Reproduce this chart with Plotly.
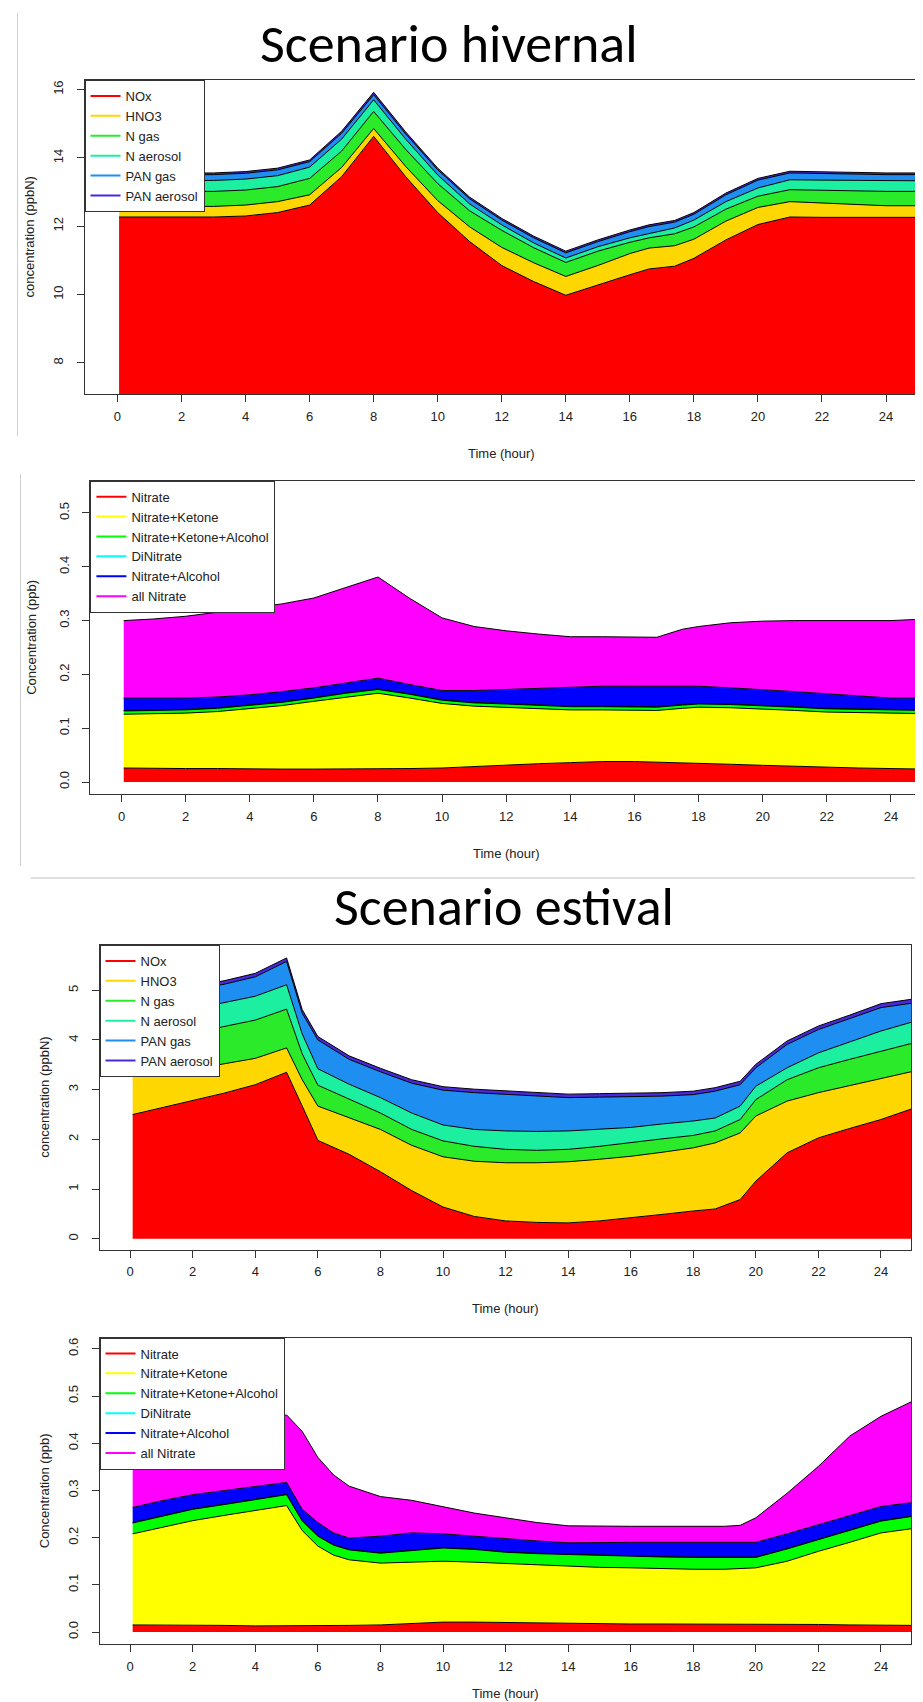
import plotly.graph_objects as go

FIG_W, FIG_H = 923, 1702

# ------------------------------------------------------------------ data
# Winter scenario, nitrogen budget (ppbN), stacked layers
hours_w_n = [0.05, 1, 2, 3, 4, 5, 6, 7, 8, 9, 10, 11, 12, 13, 14, 15, 16, 16.6, 17.4,
             18, 19, 20, 21, 22, 23, 24, 25.1]
w_nox = [12.27, 12.27, 12.27, 12.27, 12.30, 12.40, 12.62, 13.45, 14.63, 13.45, 12.40, 11.55,
         10.85, 10.38, 9.98, 10.29, 10.58, 10.75, 10.83, 11.06, 11.60, 12.05, 12.27, 12.26,
         12.26, 12.26, 12.26]
w_hno3 = [0.33, 0.32, 0.31, 0.31, 0.32, 0.32, 0.30, 0.27, 0.23, 0.30, 0.35, 0.43, 0.53, 0.55,
          0.55, 0.56, 0.62, 0.61, 0.60, 0.56, 0.55, 0.50, 0.45, 0.42, 0.37, 0.34, 0.34]
w_ngas = [0.42, 0.43, 0.43, 0.44, 0.44, 0.44, 0.48, 0.48, 0.50, 0.50, 0.50, 0.47, 0.50, 0.44,
          0.41, 0.42, 0.33, 0.30, 0.35, 0.36, 0.35, 0.33, 0.35, 0.37, 0.40, 0.42, 0.42]
w_naer = [0.31, 0.31, 0.32, 0.32, 0.32, 0.32, 0.33, 0.35, 0.34, 0.30, 0.25, 0.20, 0.16, 0.14,
          0.13, 0.13, 0.13, 0.13, 0.17, 0.20, 0.22, 0.24, 0.29, 0.30, 0.31, 0.31, 0.31]
w_pangas = [0.17, 0.17, 0.17, 0.17, 0.17, 0.17, 0.16, 0.17, 0.15, 0.15, 0.15, 0.15, 0.14, 0.15,
            0.15, 0.15, 0.18, 0.20, 0.17, 0.17, 0.20, 0.23, 0.20, 0.19, 0.18, 0.18, 0.18]
w_panaer = [0.05, 0.05, 0.05, 0.05, 0.05, 0.05, 0.05, 0.06, 0.07, 0.06, 0.05, 0.05, 0.05, 0.05,
            0.05, 0.05, 0.05, 0.05, 0.05, 0.05, 0.05, 0.05, 0.05, 0.05, 0.05, 0.05, 0.05]

# Winter scenario, organic nitrates (ppb)
hours_w_o = [0.07, 1, 2, 3, 4, 5, 6, 7, 8, 9, 10, 11, 12, 13, 14, 15, 16, 16.7, 17.5,
             18, 19, 20, 21, 22, 23, 24, 25.1]
w_nitrate = [0.026, 0.025, 0.025, 0.025, 0.024, 0.024, 0.024, 0.024, 0.024, 0.025, 0.026,
             0.029, 0.031, 0.034, 0.036, 0.038, 0.038, 0.037, 0.036, 0.035, 0.033, 0.031,
             0.029, 0.027, 0.026, 0.025, 0.024]
w_nit_ket = [0.100, 0.102, 0.103, 0.106, 0.112, 0.118, 0.126, 0.134, 0.141, 0.131, 0.120,
             0.112, 0.108, 0.102, 0.098, 0.096, 0.096, 0.096, 0.101, 0.104, 0.105, 0.105,
             0.104, 0.103, 0.103, 0.103, 0.103]
w_nit_ket_alc = [0.006, 0.006, 0.006, 0.006, 0.006, 0.006, 0.006, 0.007, 0.007, 0.007, 0.006,
                 0.006, 0.006, 0.006, 0.006, 0.006, 0.006, 0.006, 0.006, 0.006, 0.006, 0.006,
                 0.006, 0.006, 0.006, 0.006, 0.006]
w_dinitrate = [0.001, 0.001, 0.001, 0.001, 0.001, 0.001, 0.001, 0.001, 0.001, 0.001, 0.001,
               0.001, 0.001, 0.001, 0.001, 0.001, 0.001, 0.001, 0.001, 0.001, 0.001, 0.001,
               0.001, 0.001, 0.001, 0.001, 0.001]
w_nit_alc = [0.023, 0.022, 0.021, 0.020, 0.019, 0.019, 0.018, 0.018, 0.020, 0.017, 0.017,
             0.022, 0.026, 0.031, 0.035, 0.037, 0.037, 0.038, 0.034, 0.032, 0.030, 0.029,
             0.028, 0.027, 0.024, 0.021, 0.022]
w_all_nit = [0.144, 0.147, 0.152, 0.158, 0.161, 0.163, 0.167, 0.177, 0.188, 0.160, 0.135,
             0.119, 0.109, 0.101, 0.094, 0.092, 0.092, 0.091, 0.106, 0.111, 0.121, 0.127,
             0.132, 0.136, 0.140, 0.144, 0.147]

# Summer scenario, nitrogen budget (ppbN)
hours_s_n = [0.08, 1, 2, 3, 4, 5, 5.5, 6, 7, 8, 9, 10, 11, 12, 13, 14, 15, 16, 17, 18, 18.7,
             19.5, 20, 21, 22, 23, 24, 25.1]
s_nox = [2.50, 2.64, 2.78, 2.93, 3.10, 3.35, 2.67, 1.98, 1.70, 1.35, 0.97, 0.64, 0.45, 0.36,
         0.33, 0.32, 0.36, 0.42, 0.49, 0.56, 0.60, 0.79, 1.16, 1.73, 2.03, 2.22, 2.40, 2.64]
s_hno3 = [0.77, 0.69, 0.63, 0.59, 0.53, 0.49, 0.53, 0.69, 0.73, 0.85, 0.91, 1.01, 1.11, 1.17,
          1.20, 1.23, 1.24, 1.24, 1.25, 1.27, 1.33, 1.34, 1.31, 1.04, 0.91, 0.86, 0.82, 0.74]
s_ngas = [0.71, 0.72, 0.72, 0.75, 0.77, 0.78, 0.52, 0.42, 0.38, 0.33, 0.32, 0.32, 0.30, 0.27,
          0.25, 0.25, 0.26, 0.28, 0.27, 0.25, 0.24, 0.27, 0.33, 0.43, 0.50, 0.53, 0.55, 0.57]
s_naer = [0.47, 0.48, 0.49, 0.48, 0.48, 0.49, 0.40, 0.33, 0.30, 0.31, 0.33, 0.32, 0.34, 0.37,
          0.38, 0.37, 0.34, 0.30, 0.30, 0.29, 0.26, 0.27, 0.27, 0.24, 0.30, 0.35, 0.41, 0.43]
s_pangas = [0.40, 0.39, 0.40, 0.37, 0.39, 0.47, 0.42, 0.58, 0.50, 0.52, 0.60, 0.70, 0.74, 0.74,
            0.71, 0.67, 0.65, 0.62, 0.56, 0.53, 0.54, 0.43, 0.37, 0.47, 0.47, 0.47, 0.47, 0.37]
s_panaer = [0.07, 0.07, 0.07, 0.07, 0.07, 0.07, 0.07, 0.07, 0.07, 0.07, 0.07, 0.07, 0.07, 0.07,
            0.07, 0.07, 0.07, 0.07, 0.07, 0.07, 0.07, 0.07, 0.07, 0.07, 0.07, 0.07, 0.08, 0.08]

# Summer scenario, organic nitrates (ppb)
hours_s_o = [0.08, 1, 2, 3, 4, 5, 5.5, 6, 6.5, 7, 8, 9, 10, 11, 12, 13, 14, 15, 16, 17, 18,
             19, 19.5, 20, 21, 22, 23, 24, 25.1]
s_nitrate = [0.015, 0.015, 0.014, 0.014, 0.013, 0.013, 0.013, 0.013, 0.013, 0.014, 0.015,
             0.018, 0.021, 0.021, 0.020, 0.019, 0.018, 0.017, 0.017, 0.017, 0.017, 0.017,
             0.017, 0.017, 0.016, 0.016, 0.015, 0.015, 0.014]
s_nit_ket = [0.193, 0.207, 0.222, 0.233, 0.244, 0.255, 0.202, 0.169, 0.150, 0.139, 0.131,
             0.130, 0.129, 0.127, 0.125, 0.123, 0.121, 0.120, 0.119, 0.117, 0.116, 0.116,
             0.117, 0.119, 0.134, 0.155, 0.175, 0.195, 0.206]
s_nit_ket_alc = [0.023, 0.023, 0.024, 0.023, 0.023, 0.023, 0.020, 0.021, 0.021, 0.021, 0.021,
                 0.024, 0.028, 0.027, 0.024, 0.024, 0.025, 0.025, 0.024, 0.025, 0.025, 0.025,
                 0.024, 0.022, 0.026, 0.025, 0.025, 0.025, 0.026]
s_dinitrate = [0.001, 0.001, 0.001, 0.001, 0.001, 0.001, 0.001, 0.001, 0.001, 0.001, 0.001,
               0.001, 0.001, 0.001, 0.001, 0.001, 0.001, 0.001, 0.001, 0.001, 0.001, 0.001,
               0.001, 0.001, 0.001, 0.001, 0.001, 0.001, 0.001]
s_nit_alc = [0.032, 0.032, 0.030, 0.029, 0.027, 0.025, 0.024, 0.028, 0.025, 0.024, 0.035,
             0.037, 0.029, 0.027, 0.027, 0.026, 0.024, 0.027, 0.029, 0.030, 0.031, 0.031,
             0.031, 0.031, 0.031, 0.030, 0.030, 0.030, 0.028]
s_all_nit = [0.126, 0.122, 0.119, 0.125, 0.132, 0.143, 0.165, 0.138, 0.123, 0.110, 0.084,
             0.069, 0.058, 0.049, 0.045, 0.039, 0.036, 0.034, 0.034, 0.034, 0.034, 0.034,
             0.036, 0.052, 0.086, 0.124, 0.169, 0.191, 0.217]

names_n = ["NOx", "HNO3", "N gas", "N aerosol", "PAN gas", "PAN aerosol"]
colors_n = ["#FF0000", "#FFD700", "#2AEA2A", "#1CF0A0", "#1E8EF0", "#4A28DC"]
names_o = ["Nitrate", "Nitrate+Ketone", "Nitrate+Ketone+Alcohol", "DiNitrate",
           "Nitrate+Alcohol", "all Nitrate"]
colors_o = ["#FF0000", "#FFFF00", "#00FF00", "#00FFFF", "#0000FF", "#FF00FF"]

x_ticks = [0, 2, 4, 6, 8, 10, 12, 14, 16, 18, 20, 22, 24]
y_ticks_w_n = [8, 10, 12, 14, 16]
y_ticks_w_o = [0.0, 0.1, 0.2, 0.3, 0.4, 0.5]
y_ticks_s_n = [0, 1, 2, 3, 4, 5]
y_ticks_s_o = [0.0, 0.1, 0.2, 0.3, 0.4, 0.5, 0.6]

titles = ["Scenario hivernal", "Scenario estival"]
x_title = "Time (hour)"
y_title_n = "concentration (ppbN)"
y_title_o = "Concentration (ppb)"

# ------------------------------------------------------------------ layout helpers
def fx(px):
    return px / FIG_W


def fy(py):
    return 1 - py / FIG_H


TXT = "#222222"
FONT = "Liberation Sans, Arial, sans-serif"

panels = [
    dict(hours=hours_w_n, series=[w_nox, w_hno3, w_ngas, w_naer, w_pangas, w_panaer],
         names=names_n, colors=colors_n, yt=y_ticks_w_n, ytt=[str(v) for v in y_ticks_w_n],
         box=(76.5, 911, 72, 386), xr=[-1.03, 25.03], yr=[7.09, 16.28],
         ytitle=y_title_n, ytitle_x=20.5, xtitle_y=445),
    dict(hours=hours_w_o, series=[w_nitrate, w_nit_ket, w_nit_ket_alc, w_dinitrate, w_nit_alc, w_all_nit],
         names=names_o, colors=colors_o, yt=y_ticks_w_o, ytt=["%.1f" % v for v in y_ticks_w_o],
         box=(82.4, 915, 472.7, 786), xr=[-0.97, 25.0], yr=[-0.0223, 0.56],
         ytitle=y_title_o, ytitle_x=23.5, xtitle_y=845),
    dict(hours=hours_s_n, series=[s_nox, s_hno3, s_ngas, s_naer, s_pangas, s_panaer],
         names=names_n, colors=colors_n, yt=y_ticks_s_n, ytt=[str(v) for v in y_ticks_s_n],
         box=(91.5, 903, 937, 1241.5), xr=[-0.98, 24.96], yr=[-0.215, 5.91],
         ytitle=y_title_n, ytitle_x=36.5, xtitle_y=1300.5),
    dict(hours=hours_s_o, series=[s_nitrate, s_nit_ket, s_nit_ket_alc, s_dinitrate, s_nit_alc, s_all_nit],
         names=names_o, colors=colors_o, yt=y_ticks_s_o, ytt=["%.1f" % v for v in y_ticks_s_o],
         box=(91.5, 903, 1329.5, 1636), xr=[-0.98, 24.96], yr=[-0.0254, 0.624],
         ytitle=y_title_o, ytitle_x=36.5, xtitle_y=1685),
]

fig = go.Figure()
annotations = []
layout = dict(
    width=FIG_W, height=FIG_H,
    margin=dict(l=0, r=0, t=0, b=0),
    paper_bgcolor="white", plot_bgcolor="white",
    showlegend=True,
    font=dict(family=FONT, color=TXT),
)

for i, p in enumerate(panels, start=1):
    sfx = "" if i == 1 else str(i)
    xa, ya = "x" + sfx, "y" + sfx
    left, right, top, bottom = p["box"]
    leg = "legend" + sfx
    for name, vals, col in zip(p["names"], p["series"], p["colors"]):
        fig.add_trace(go.Scatter(
            x=p["hours"], y=vals, mode="lines", stackgroup="g%d" % i,
            line=dict(color="black", width=1), fillcolor=col,
            showlegend=False, hoverinfo="skip", xaxis=xa, yaxis=ya, name=name))
    for name, col in zip(p["names"], p["colors"]):
        fig.add_trace(go.Scatter(
            x=[None], y=[None], mode="lines", line=dict(color=col, width=2),
            name=name, legend=leg, xaxis=xa, yaxis=ya, hoverinfo="skip"))
    common = dict(showline=True, linecolor="#333333", linewidth=1, mirror=True,
                  ticks="outside", ticklen=7, tickcolor="#333333", tickwidth=1,
                  showgrid=False, zeroline=False, fixedrange=True,
                  tickfont=dict(family=FONT, size=13, color=TXT))
    layout["xaxis" + sfx] = dict(common, domain=[fx(left), fx(right)], range=p["xr"],
                                 anchor=ya, tickvals=x_ticks, ticktext=[str(v) for v in x_ticks],
                                 ticklabelstandoff=3)
    layout["yaxis" + sfx] = dict(common, domain=[fy(bottom), fy(top)], range=p["yr"],
                                 anchor=xa, tickvals=p["yt"], ticktext=p["ytt"], tickangle=-90,
                                 ticklabelstandoff=8)
    layout[leg] = dict(x=fx(left), y=fy(top), xanchor="left", yanchor="top",
                       bgcolor="white", bordercolor="#333333", borderwidth=1,
                       traceorder="normal",
                       font=dict(family=FONT, size=13, color=TXT), tracegroupgap=0)
    annotations.append(dict(text=x_title, x=fx((left + right) / 2), y=fy(p["xtitle_y"]),
                            xref="paper", yref="paper", showarrow=False,
                            xanchor="center", yanchor="middle",
                            font=dict(family=FONT, size=13, color=TXT)))
    annotations.append(dict(text=p["ytitle"], x=fx(p["ytitle_x"]), y=fy((top + bottom) / 2),
                            xref="paper", yref="paper", showarrow=False, textangle=-90,
                            xanchor="center", yanchor="middle",
                            font=dict(family=FONT, size=13, color=TXT)))

annotations.append(dict(text=titles[0], x=fx(441), y=fy(1), xref="paper", yref="paper",
                        showarrow=False, xanchor="center", yanchor="top",
                        font=dict(family="Carlito, Lato, sans-serif", size=54, color="black")))
annotations.append(dict(text=titles[1], x=fx(496), y=fy(864), xref="paper", yref="paper",
                        showarrow=False, xanchor="center", yanchor="top",
                        font=dict(family="Carlito, Lato, sans-serif", size=54, color="black")))

shapes = [
    dict(type="line", xref="paper", yref="paper", x0=fx(9.5), x1=fx(9.5), y0=fy(5), y1=fy(428),
         line=dict(color="#d0d0d0", width=1)),
    dict(type="line", xref="paper", yref="paper", x0=fx(12.5), x1=fx(12.5), y0=fy(466), y1=fy(858),
         line=dict(color="#d0d0d0", width=1)),
    dict(type="line", xref="paper", yref="paper", x0=fx(23), x1=fx(923), y0=fy(870), y1=fy(870),
         line=dict(color="#bdbdbd", width=1)),
]

layout["annotations"] = annotations
layout["shapes"] = shapes
fig.update_layout(**layout)
fig.write_html("out.html")
